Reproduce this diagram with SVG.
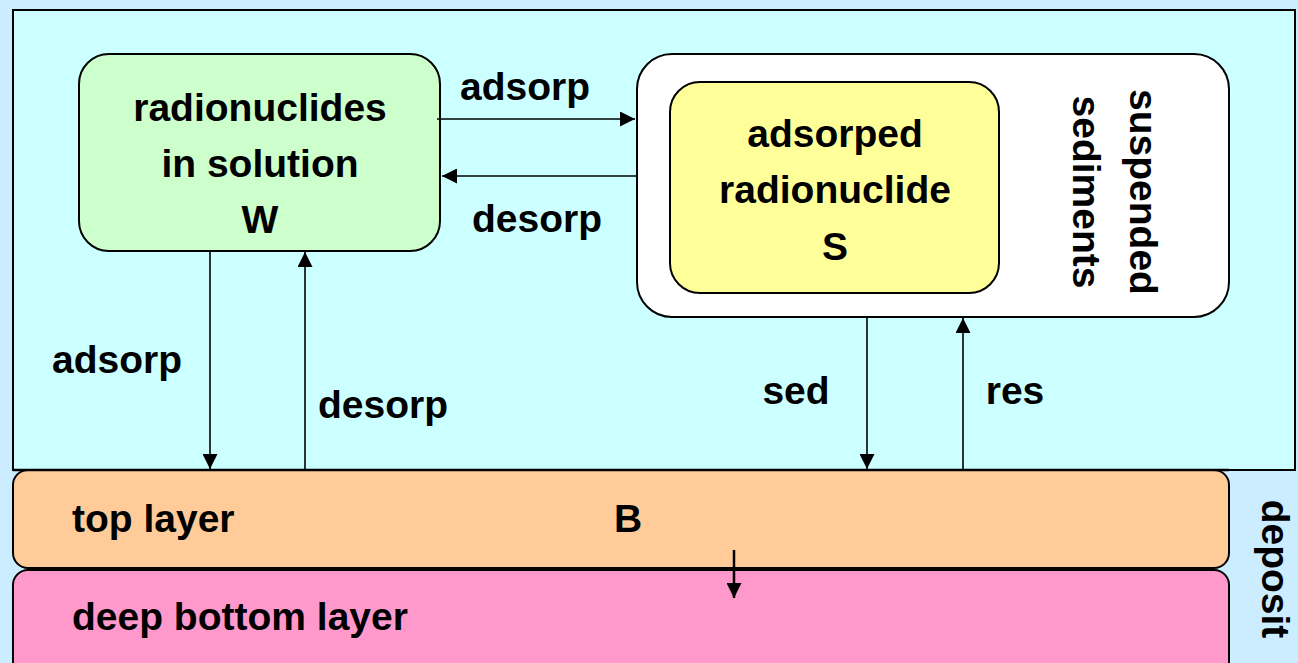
<svg xmlns="http://www.w3.org/2000/svg" width="1298" height="663" viewBox="0 0 1298 663">
<style>
text{font-family:"Liberation Sans",Arial,sans-serif;font-weight:bold;font-size:39px;fill:#000}
.c{text-anchor:middle}
.box{stroke:#000;stroke-width:2}
.ln{stroke:#000;stroke-width:1.6;fill:none}
</style>
<defs>
<marker id="ah" viewBox="0 0 10 10" refX="10" refY="5" markerUnits="userSpaceOnUse" markerWidth="15" markerHeight="15" orient="auto">
<path d="M0,0 L10,5 L0,10 Z" fill="#000"/>
</marker>
</defs>
<rect x="0" y="0" width="1298" height="663" fill="#CCECFF"/>
<g id="water">
<rect x="13" y="10" width="1282" height="460" fill="#CCFFFF" class="box"/>
</g>
<g id="deep">
<rect x="13" y="570" width="1216" height="120" rx="15" fill="#FF99CC" class="box"/>
<text x="72" y="630">deep bottom layer</text>
</g>
<g id="top">
<rect x="13" y="470" width="1216" height="98" rx="15" fill="#FFCC99" class="box"/>
<text x="72" y="532">top layer</text>
<text x="628" y="532" class="c">B</text>
</g>
<line x1="13" y1="470" x2="1229" y2="470" stroke="#000" stroke-width="2.5"/>
<g id="solution">
<rect x="79" y="54" width="361" height="197" rx="30" fill="#CCFFCC" class="box"/>
<text x="260" y="121" class="c">radionuclides</text>
<text x="260" y="177" class="c">in solution</text>
<text x="260" y="233" class="c">W</text>
</g>
<g id="suspended">
<rect x="637" y="54" width="592" height="263" rx="35" fill="#FFFFFF" class="box"/>
<g transform="translate(1130,192) rotate(90)">
<text x="0" y="0" class="c">suspended</text>
<text x="0" y="57" class="c">sediments</text>
</g>
</g>
<g id="adsorbed">
<rect x="670" y="82" width="329" height="211" rx="30" fill="#FFFF99" class="box"/>
<text x="835" y="147" class="c">adsorped</text>
<text x="835" y="203" class="c">radionuclide</text>
<text x="835" y="260" class="c">S</text>
</g>
<g id="deposit">
<text x="0" y="0" class="c" transform="translate(1262,569) rotate(90)">deposit</text>
</g>
<g id="connectors">
<line x1="437" y1="119" x2="635" y2="119" class="ln" marker-end="url(#ah)"/>
<line x1="637" y1="176" x2="442" y2="176" class="ln" marker-end="url(#ah)"/>
<line x1="210" y1="251" x2="210" y2="469" class="ln" marker-end="url(#ah)"/>
<line x1="305" y1="470" x2="305" y2="252" class="ln" marker-end="url(#ah)"/>
<line x1="867" y1="317" x2="867" y2="469" class="ln" marker-end="url(#ah)"/>
<line x1="963" y1="470" x2="963" y2="318" class="ln" marker-end="url(#ah)"/>
<line x1="734" y1="550" x2="734" y2="598" stroke="#000" stroke-width="2.5" marker-end="url(#ah)"/>
<text x="525" y="100" class="c">adsorp</text>
<text x="537" y="232" class="c">desorp</text>
<text x="117" y="373" class="c">adsorp</text>
<text x="383" y="418" class="c">desorp</text>
<text x="796" y="404" class="c">sed</text>
<text x="1015" y="404" class="c">res</text>
</g>
</svg>
